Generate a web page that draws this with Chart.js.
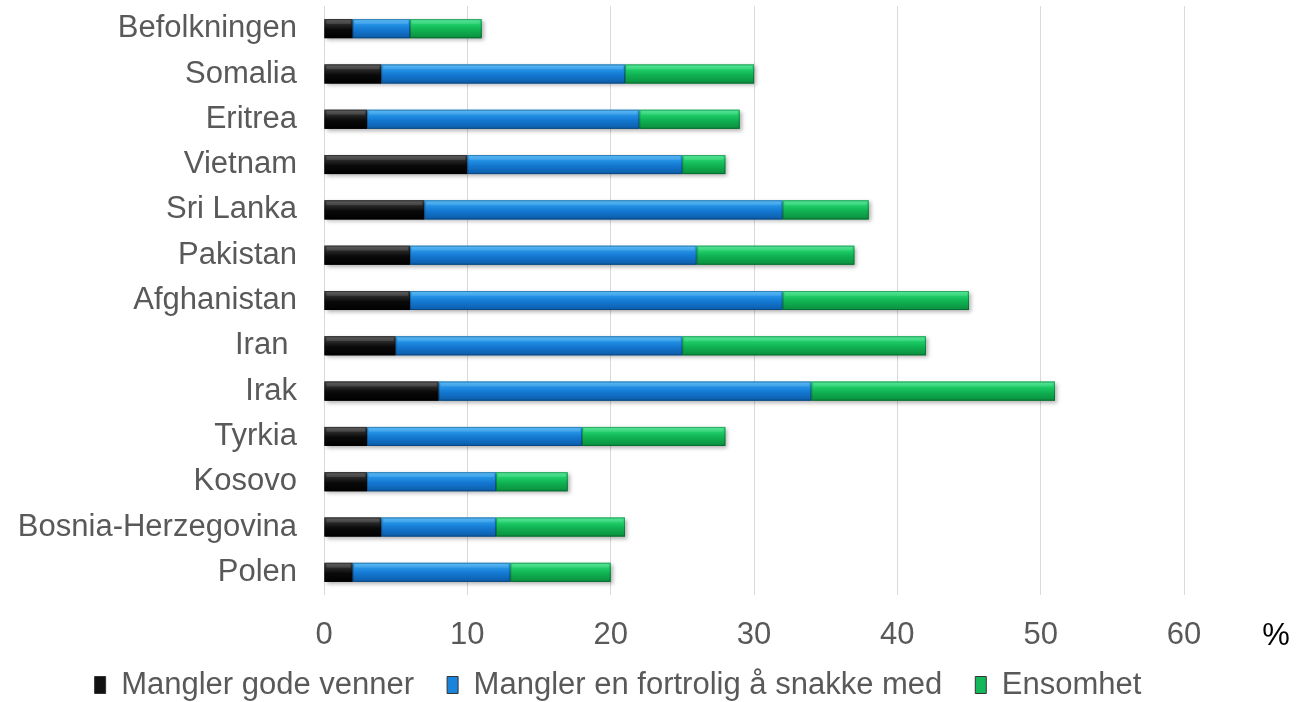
<!DOCTYPE html>
<html><head><meta charset="utf-8">
<script src="https://cdn.jsdelivr.net/npm/chart.js@4"></script>
<style>html,body{margin:0;padding:0;background:#fff}#wrap{width:1296px;height:702px}</style>
</head><body><div id="wrap"><canvas id="c" width="1296" height="702"></canvas></div>
<script>
const categories = ["Befolkningen","Somalia","Eritrea","Vietnam","Sri Lanka","Pakistan","Afghanistan","Iran ","Irak","Tyrkia","Kosovo","Bosnia-Herzegovina","Polen"];
const seriesNames = ["Mangler gode venner","Mangler en fortrolig å snakke med","Ensomhet"];
const manglerVenner = [2,4,3,10,7,6,6,5,8,3,3,4,2];
const manglerFortrolig = [4,17,19,15,25,20,26,20,26,15,9,8,11];
const ensomhet = [5,9,7,3,6,11,13,17,17,10,5,9,7];
const xTicks = [0,10,20,30,40,50,60];

const FONT = "'Liberation Sans', Arial, sans-serif";
const TXT = '#595959';
const stops = [
  ['#4a4a4a','#2a2a2a','#0a0a0a','#000000'],
  ['#45b2f5','#2594e6','#1478d2','#0c5ca8'],
  ['#3ee38a','#1fcf6a','#10b252','#0a8e3e']
];
const flat = ['#111111','#1a84da','#14b85a'];

const gradPlugin = {
  id:'grad',
  beforeLayout(chart){
    const lg = chart.legend;
    if (lg && !lg._patched){
      const f = lg.fit;
      lg.fit = function(){ f.call(this); this.height = 35; };
      lg._patched = true;
    }
  },
  afterLayout(chart){
    const lg = chart.legend;
    if (!lg) return;
    lg.left = 52; lg.width = lg.right - 52;
    lg.top = 636.5; lg.bottom = 702; lg.height = 65.5;
  },
  afterDatasetsDraw(chart){
    const ctx = chart.ctx;
    chart.data.datasets.forEach((ds,di)=>{
      const meta = chart.getDatasetMeta(di);
      meta.data.forEach(el=>{
        const left = Math.min(el.x, el.base), right = Math.max(el.x, el.base);
        const top = el.y - el.height/2, h = el.height;
        ctx.save();
        ctx.shadowColor='rgba(0,0,0,0.30)'; ctx.shadowBlur=4; ctx.shadowOffsetX=2; ctx.shadowOffsetY=2;
        const g = ctx.createLinearGradient(0,top,0,top+h);
        const s = stops[di];
        g.addColorStop(0,s[0]); g.addColorStop(0.25,s[1]); g.addColorStop(0.55,s[2]); g.addColorStop(1,s[3]);
        ctx.fillStyle = g;
        ctx.fillRect(left, top, right-left, h);
        ctx.restore();
        ctx.save();
        ctx.fillStyle='rgba(255,255,255,0.12)';
        ctx.fillRect(left+2, top+1, Math.max(0,right-left-4), h*0.2);
        ctx.strokeStyle='rgba(0,0,0,0.25)'; ctx.lineWidth=1;
        ctx.strokeRect(left+0.5, top+0.5, right-left-1, h-1);
        ctx.restore();
      });
    });
  },
  afterDraw(chart){
    const ctx = chart.ctx;
    ctx.save();
    ctx.font = "31px " + FONT;
    ctx.fillStyle = '#000';
    ctx.textAlign='center'; ctx.textBaseline='middle';
    ctx.fillText('%', 1276, 636);
    ctx.restore();
  }
};

new Chart(document.getElementById('c'), {
  type:'bar',
  data:{
    labels: categories,
    datasets:[
      {label:seriesNames[0], data:manglerVenner, backgroundColor:flat[0]},
      {label:seriesNames[1], data:manglerFortrolig, backgroundColor:flat[1]},
      {label:seriesNames[2], data:ensomhet, backgroundColor:flat[2]}
    ]
  },
  options:{
    indexAxis:'y',
    responsive:false,
    animation:false,
    devicePixelRatio:1,
    layout:{padding:{left:0,right:112,top:6,bottom:0}},
    datasets:{bar:{categoryPercentage:0.84,barPercentage:0.5}},
    scales:{
      x:{
        stacked:true, min:0, max:60,
        afterBuildTicks(s){ s.ticks = xTicks.map(v=>({value:v})); },
        grid:{color:'#d9d9d9', lineWidth:1, drawTicks:false},
        border:{display:false},
        ticks:{font:{family:FONT,size:31}, color:TXT, padding:22},
        afterFit(s){ s.height = 72; s.paddingLeft = 0; s.paddingRight = 0; }
      },
      y:{
        stacked:true,
        grid:{display:false, drawTicks:false},
        border:{display:false},
        ticks:{font:{family:FONT,size:31}, color:TXT, padding:27, autoSkip:false},
        afterFit(s){ s.width = 324; s.paddingTop = 0; s.paddingBottom = 0; }
      }
    },
    plugins:{
      legend:{
        position:'bottom',
        labels:{font:{family:FONT,size:31}, color:TXT, boxWidth:11, boxHeight:17, padding:33,
          generateLabels(chart){
            return chart.data.datasets.map((d,i)=>({text:d.label, fillStyle:flat[i], strokeStyle:'#333', lineWidth:1, datasetIndex:i, fontColor:TXT}));
          }
        }
      },
      tooltip:{enabled:false}
    }
  },
  plugins:[gradPlugin]
});
</script></body></html>
